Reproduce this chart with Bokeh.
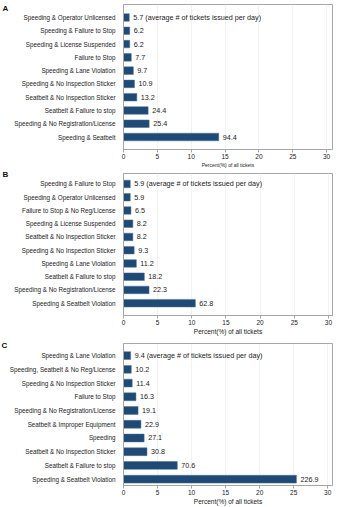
from bokeh.plotting import figure
from bokeh.layouts import column
from bokeh.models import ColumnDataSource, Label, FixedTicker
from bokeh.embed import file_html
from bokeh.resources import INLINE

# ---- data (listed top to bottom) ----
a_cats = ["Speeding & Operator Unlicensed", "Speeding & Failure to Stop",
          "Speeding & License Suspended", "Failure to Stop",
          "Speeding & Lane Violation", "Speeding & No Inspection Sticker",
          "Seatbelt & No Inspection Sticker", "Seatbelt & Failure to stop",
          "Speeding & No Registration/License", "Speeding & Seatbelt"]
a_pct = [0.85, 0.92, 0.92, 1.15, 1.45, 1.62, 1.97, 3.64, 3.79, 14.07]
a_day = [5.7, 6.2, 6.2, 7.7, 9.7, 10.9, 13.2, 24.4, 25.4, 94.4]

b_cats = ["Speeding & Failure to Stop", "Speeding & Operator Unlicensed",
          "Failure to Stop & No Reg/License", "Speeding & License Suspended",
          "Seatbelt & No Inspection Sticker", "Speeding & No Inspection Sticker",
          "Speeding & Lane Violation", "Seatbelt & Failure to stop",
          "Speeding & No Registration/License", "Speeding & Seatbelt Violation"]
b_pct = [0.99, 0.99, 1.09, 1.37, 1.37, 1.56, 1.88, 3.05, 3.74, 10.52]
b_day = [5.9, 5.9, 6.5, 8.2, 8.2, 9.3, 11.2, 18.2, 22.3, 62.8]

c_cats = ["Speeding & Lane Violation", "Speeding, Seatbelt & No Reg/License",
          "Speeding & No Inspection Sticker", "Failure to Stop",
          "Speeding & No Registration/License", "Seatbelt & Improper Equipment",
          "Speeding", "Seatbelt & No Inspection Sticker",
          "Seatbelt & Failure to stop", "Speeding & Seatbelt Violation"]
c_pct = [1.05, 1.14, 1.28, 1.83, 2.14, 2.56, 3.03, 3.45, 7.90, 25.40]
c_day = [9.4, 10.2, 11.4, 16.3, 19.1, 22.9, 27.1, 30.8, 70.6, 226.9]

x_ticks = [0, 5, 10, 15, 20, 25, 30]
x_title = "Percent(%) of all tickets"
note = " (average # of tickets issued per day)"

FONT = "Liberation Sans"
BAR = "#1f4a75"
GRAY = "#a6a6a6"


def panel(letter, cats, pct, day, h, mb, x_end, y_rng, title_size, letter_xy):
    n = len(cats)
    ys = [n - 1 - i for i in range(n)]
    labels = [f"{d}" + (note if i == 0 else "") for i, d in enumerate(day)]
    src = ColumnDataSource(dict(y=ys, pct=pct, lab=labels))
    p = figure(width=338, height=h, output_backend="svg", toolbar_location=None,
               x_range=(0, x_end), y_range=y_rng,
               min_border_left=mb[0], min_border_right=mb[1],
               min_border_top=mb[2], min_border_bottom=mb[3])
    p.hbar(y="y", right="pct", left=0, height=0.57, source=src,
           fill_color=BAR, line_color="#4a7099", line_width=0.5)
    p.text(x="pct", y="y", text="lab", source=src, x_offset=4,
           text_baseline="middle", text_align="left",
           text_font_size="7.2px", text_color="#222222", text_font={"value": FONT})
    p.yaxis.ticker = FixedTicker(ticks=ys)
    p.yaxis.major_label_overrides = {y: c for y, c in zip(ys, cats)}
    p.yaxis.major_tick_line_color = None
    p.yaxis.minor_tick_line_color = None
    p.yaxis.axis_line_color = GRAY
    p.yaxis.major_label_standoff = 2
    p.yaxis.major_label_text_font = FONT
    p.yaxis.major_label_text_font_size = "6.3px"
    p.yaxis.major_label_text_color = "#222222"
    p.xaxis.ticker = FixedTicker(ticks=x_ticks)
    p.xaxis.minor_tick_line_color = None
    p.xaxis.major_tick_in = 0
    p.xaxis.major_tick_out = 3
    p.xaxis.major_tick_line_color = GRAY
    p.xaxis.axis_line_color = GRAY
    p.xaxis.major_label_standoff = 1
    p.xaxis.major_label_text_font = FONT
    p.xaxis.major_label_text_font_size = "6.5px"
    p.xaxis.major_label_text_color = "#222222"
    p.xaxis.axis_label = x_title
    p.xaxis.axis_label_standoff = 0
    p.xaxis.axis_label_text_font = FONT
    p.xaxis.axis_label_text_font_style = "normal"
    p.xaxis.axis_label_text_font_size = title_size
    p.xaxis.axis_label_text_color = "#222222"
    p.ygrid.grid_line_color = None
    p.xgrid.grid_line_color = "#ececec"
    p.xgrid.grid_line_width = 0.7
    p.outline_line_color = GRAY
    p.outline_line_width = 1
    p.background_fill_color = "white"
    p.border_fill_color = "white"
    p.add_layout(Label(x=letter_xy[0], y=letter_xy[1], x_units="screen", y_units="screen",
                       text=letter, text_font=FONT, text_font_style="bold",
                       text_font_size="8px", text_color="#111111",
                       text_baseline="middle"), "left")
    return p


pa = panel("A", a_cats, a_pct, a_day, 170, (119, 6, 4, 18), 30.87, (-0.94, 9.98), "5px", (-3, 141.0))
pb = panel("B", b_cats, b_pct, b_day, 167, (123, 5, 3, 18), 30.6, (-0.93, 9.79), "6.5px", (-3, 140.8))
pc = panel("C", c_cats, c_pct, c_day, 170, (122, 5, 6, 20), 30.7, (-0.46, 9.88), "6.5px", (1, 139.7))

layout = column(pa, pb, pc, spacing=0)
open("out.html", "w").write(file_html(layout, INLINE))
